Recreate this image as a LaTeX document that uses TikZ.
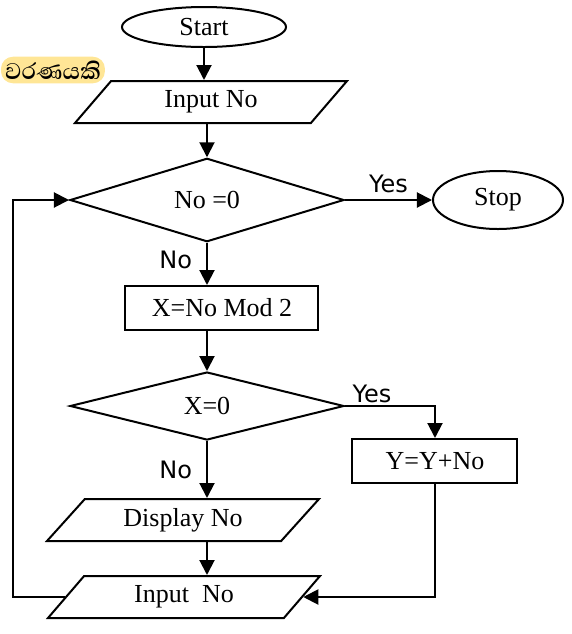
\documentclass[tikz,border=0pt]{standalone}
\usepackage{fontspec}
\setmainfont{Liberation Serif}
\newfontfamily\lblfont{DejaVu Sans}
\newfontfamily\sinhalafont[Script=Sinhala]{Abhaya Libre}
\usetikzlibrary{shapes.geometric,arrows.meta}
\definecolor{notefill}{RGB}{255,230,150}

\begin{document}
\begin{tikzpicture}[x=0.5pt,y=-0.5pt,>={Triangle[length=7.5pt,width=7.5pt]},line width=1pt,
  term/.style={shape=ellipse,draw,inner sep=0pt,font=\fontsize{13}{15}\selectfont},
  io/.style={shape=trapezium,draw,trapezium left angle=32,trapezium right angle=148,
    trapezium stretches body,inner sep=0pt,minimum width=136pt,minimum height=21pt,
    font=\fontsize{13}{15}\selectfont},
  dec/.style={shape=diamond,draw,inner sep=0pt,minimum width=137pt,minimum height=37pt,
    font=\fontsize{13}{15}\selectfont},
  proc/.style={shape=rectangle,draw,inner sep=0pt,minimum height=22pt,
    font=\fontsize{13}{15}\selectfont},
  lbl/.style={font=\lblfont\fontsize{12}{14}\selectfont,inner sep=1pt}]
\useasboundingbox (0,0) rectangle (572,634);
\node (note) at (0,70) [anchor=west,fill=notefill,rounded corners=6pt,inner sep=2pt,
  font=\sinhalafont\bfseries\fontsize{14.5}{17}\selectfont] {වරණයකි};
\node (start) at (204,27) [term,minimum width=82pt,minimum height=20pt] {Start};
\node   (in1) at (211,102) [io] {Input No};
\node  (dec1) at (207,200) [dec] {No =0};
\node  (stop) at (498,200) [term,minimum width=65pt,minimum height=29pt] {Stop};
\node  (calc) at (222,308) [proc,minimum width=96.5pt] {X=No Mod 2};
\node  (dec2) at (207,406) [dec,minimum height=34pt] {X=0};
\node  (addy) at (435,461) [proc,minimum width=82.5pt] {Y=Y+No};
\node  (disp) at (183,520) [io] {Display No};
\node   (in2) at (184,597) [io] {Input\ \ No};
\coordinate (back) at (13,400);
\draw [->] (start) -- (start |- in1.north);
\draw [->] (dec1 |- in1.south) -- (dec1.north);
\draw [->] (dec1) -- node [lbl,above=2pt] {Yes} (stop);
\draw [->] (dec1.south) -- node [lbl,left=6pt,pos=0.4] {No} (dec1.south |- calc.north);
\draw [->] (dec1 |- calc.south) -- (dec2.north);
\draw [->] (dec2) -| node [lbl,above,pos=0.15] {Yes} (addy);
\draw [->] (dec2.south) -- node [lbl,left=6pt] {No} (dec2.south |- disp.north);
\draw [->] (dec2 |- disp.south) -- (dec2 |- in2.north);
\draw [->] (addy) |- (in2);
\draw [->] (in2.west) -| (back) |- (dec1.west);
\end{tikzpicture}
\end{document}
